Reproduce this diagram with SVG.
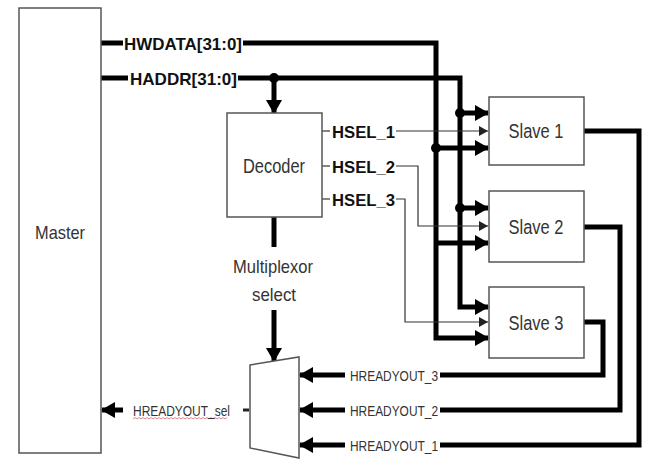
<svg xmlns="http://www.w3.org/2000/svg" width="645" height="460" viewBox="0 0 645 460">
<style>
.box{fill:#fff;stroke:#555;stroke-width:1.5}
.thick{fill:none;stroke:#000;stroke-width:5}
.thin{fill:none;stroke:#333;stroke-width:1.2}
.lbl{font-family:"Liberation Sans",Arial,sans-serif;fill:#333}
.b{font-weight:bold;fill:#111}
.dot{fill:#000}
</style>
<defs>
<marker id="big" markerUnits="userSpaceOnUse" markerWidth="14" markerHeight="16" refX="13" refY="8" orient="auto">
<path d="M0,0 L14,8 L0,16 z" fill="#000"/>
</marker>
<marker id="small" markerUnits="userSpaceOnUse" markerWidth="9" markerHeight="10" refX="9" refY="5" orient="auto">
<path d="M0,0 L9,5 L0,10 z" fill="#222"/>
</marker>
</defs>
<rect width="645" height="460" fill="#fff"/>

<g id="connectors">
<!-- HWDATA -->
<line class="thick" x1="101" y1="43" x2="123" y2="43"/>
<polyline class="thick" points="243,43 436,43 436,338 488,338" marker-end="url(#big)"/>
<line class="thick" x1="436" y1="148" x2="488" y2="148" marker-end="url(#big)"/>
<line class="thick" x1="436" y1="243" x2="488" y2="243" marker-end="url(#big)"/>
<circle class="dot" cx="436" cy="148" r="5"/>
<!-- HADDR -->
<line class="thick" x1="101" y1="78" x2="128" y2="78"/>
<polyline class="thick" points="238,78 460,78 460,307 488,307" marker-end="url(#big)"/>
<line class="thick" x1="460" y1="113" x2="488" y2="113" marker-end="url(#big)"/>
<line class="thick" x1="460" y1="208" x2="488" y2="208" marker-end="url(#big)"/>
<circle class="dot" cx="460" cy="113" r="5"/>
<circle class="dot" cx="460" cy="208" r="5"/>
<circle class="dot" cx="274" cy="78" r="5"/>
<line class="thick" x1="274" y1="78" x2="274" y2="113" marker-end="url(#big)"/>
<!-- HSEL -->
<line class="thin" x1="322" y1="131" x2="330" y2="131"/>
<line class="thin" x1="322" y1="166" x2="330" y2="166"/>
<line class="thin" x1="322" y1="199" x2="330" y2="199"/>
<line class="thin" x1="396" y1="131" x2="488" y2="131" marker-end="url(#small)"/>
<polyline class="thin" points="396,166 418,166 418,226 488,226" marker-end="url(#small)"/>
<polyline class="thin" points="396,199 405,199 405,322 488,322" marker-end="url(#small)"/>
<!-- decoder to mux -->
<line class="thick" x1="274" y1="217" x2="274" y2="247"/>
<line class="thick" x1="274" y1="310" x2="274" y2="361" marker-end="url(#big)"/>
<!-- slave outputs -->
<polyline class="thick" points="584,131 639,131 639,445 440,445"/>
<polyline class="thick" points="584,227 620,227 620,410 440,410"/>
<polyline class="thick" points="584,322 603,322 603,375 440,375"/>
<line class="thick" x1="345" y1="375" x2="300" y2="375" marker-end="url(#big)"/>
<line class="thick" x1="345" y1="410" x2="300" y2="410" marker-end="url(#big)"/>
<line class="thick" x1="345" y1="445" x2="300" y2="445" marker-end="url(#big)"/>
<!-- mux output -->
<line x1="243" y1="410" x2="249" y2="410" stroke="#222" stroke-width="3"/>
<line class="thick" x1="123" y1="410" x2="102" y2="410" marker-end="url(#big)"/>
<path d="M133,419 l2,-1.5 l2,1.5 l2,-1.5 l2,1.5 l2,-1.5 l2,1.5 l2,-1.5 l2,1.5 l2,-1.5 l2,1.5 l2,-1.5 l2,1.5 l2,-1.5 l2,1.5 l2,-1.5 l2,1.5 l2,-1.5 l2,1.5 l2,-1.5 l2,1.5 l2,-1.5 l2,1.5 l2,-1.5 l2,1.5 l2,-1.5 l2,1.5 l2,-1.5 l2,1.5 l2,-1.5 l2,1.5 l2,-1.5 l2,1.5 l2,-1.5 l2,1.5 l2,-1.5 l2,1.5 l2,-1.5 l2,1.5 l2,-1.5 l2,1.5 l2,-1.5 l2,1.5 l2,-1.5 l2,1.5 l2,-1.5 l2,1.5 l2,-1.5" fill="none" stroke="#d66" stroke-width="0.8"/>
</g>

<g id="labels">
<text class="lbl b" x="124" y="49.5" font-size="17" textLength="118" lengthAdjust="spacingAndGlyphs">HWDATA[31:0]</text>
<text class="lbl b" x="130" y="84.5" font-size="17" textLength="107" lengthAdjust="spacingAndGlyphs">HADDR[31:0]</text>
<text class="lbl b" x="332" y="137.5" font-size="17" textLength="63" lengthAdjust="spacingAndGlyphs">HSEL_1</text>
<text class="lbl b" x="332" y="172.5" font-size="17" textLength="63" lengthAdjust="spacingAndGlyphs">HSEL_2</text>
<text class="lbl b" x="332" y="205.5" font-size="17" textLength="63" lengthAdjust="spacingAndGlyphs">HSEL_3</text>
<text class="lbl" x="233" y="273" font-size="19" textLength="80" lengthAdjust="spacingAndGlyphs">Multiplexor</text>
<text class="lbl" x="252" y="301" font-size="19" textLength="44" lengthAdjust="spacingAndGlyphs">select</text>
<text class="lbl" x="350" y="380.5" font-size="15" textLength="88" lengthAdjust="spacingAndGlyphs">HREADYOUT_3</text>
<text class="lbl" x="350" y="415.5" font-size="15" textLength="88" lengthAdjust="spacingAndGlyphs">HREADYOUT_2</text>
<text class="lbl" x="350" y="450.5" font-size="15" textLength="88" lengthAdjust="spacingAndGlyphs">HREADYOUT_1</text>
<text class="lbl" x="133" y="415.5" font-size="15" textLength="97" lengthAdjust="spacingAndGlyphs">HREADYOUT_sel</text>
</g>

<g id="master">
<rect class="box" x="19" y="8" width="82" height="445"/>
<text class="lbl" x="60" y="239" font-size="19" text-anchor="middle" textLength="50" lengthAdjust="spacingAndGlyphs">Master</text>
</g>
<g id="decoder">
<rect class="box" x="227" y="113" width="95" height="104"/>
<text class="lbl" x="274" y="173" font-size="20" text-anchor="middle" textLength="62" lengthAdjust="spacingAndGlyphs">Decoder</text>
</g>
<g id="slave1">
<rect class="box" x="489" y="97" width="95" height="68"/>
<text class="lbl" x="536" y="138" font-size="20" text-anchor="middle" textLength="55" lengthAdjust="spacingAndGlyphs">Slave 1</text>
</g>
<g id="slave2">
<rect class="box" x="489" y="191" width="95" height="71"/>
<text class="lbl" x="536" y="234" font-size="20" text-anchor="middle" textLength="55" lengthAdjust="spacingAndGlyphs">Slave 2</text>
</g>
<g id="slave3">
<rect class="box" x="489" y="287" width="95" height="71"/>
<text class="lbl" x="536" y="330" font-size="20" text-anchor="middle" textLength="55" lengthAdjust="spacingAndGlyphs">Slave 3</text>
</g>
<g id="mux">
<polygon class="box" points="250,365 299,357 299,458 250,448"/>
</g>
</svg>
